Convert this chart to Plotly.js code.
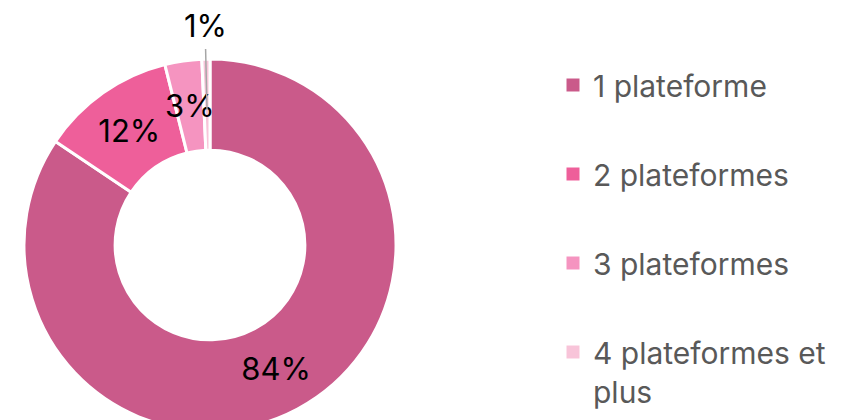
<!DOCTYPE html>
<html>
<head>
<meta charset="utf-8">
<script src="https://cdn.plot.ly/plotly-3.0.1.min.js"></script>
<style>
  html, body { margin: 0; padding: 0; overflow: hidden; background: #fff; }
  #chart { width: 851px; height: 460px; }
</style>
</head>
<body>
<div id="chart"></div>
<script>
const categories = ['1 plateforme', '2 plateformes', '3 plateformes', '4 plateformes et<br>plus'];
const shares = [84.4, 11.7, 3.2, 0.7];
const sliceColors = ['#CA5A8A', '#EE5F9A', '#F594C0', '#F8C4D9'];
// the two thin slices get their labels as annotations (like the Excel original)
const pieLabels = ['%{percent:.0%}', '%{percent:.0%}', '', ''];

const font = 'Inter, "Open Sans", sans-serif';
const W = 851, H = 460;
const mt = 59, mb = 29;
const cx = 210, R = 186; // pie centre x and outer radius, px
const hole = 0.51;

const donut = {
  type: 'pie',
  labels: categories,
  values: shares,
  hole: hole,
  sort: false,
  direction: 'clockwise',
  rotation: 0,
  showlegend: false,
  textposition: 'inside',
  texttemplate: pieLabels,
  insidetextorientation: 'horizontal',
  textfont: { family: font, size: 31, color: '#000' },
  marker: { colors: sliceColors, line: { color: '#fff', width: 3 } },
  domain: { x: [(cx - R) / W, (cx + R) / W], y: [0, 1] },
  hoverinfo: 'label+percent'
};

// legend entries, one per category, spaced like the original
const legendTraces = categories.map((name, i) => ({
  type: 'scatter',
  mode: 'markers',
  x: [null],
  y: [null],
  name,
  legendgroup: 'g' + i,
  marker: { symbol: 'square', size: 13, color: sliceColors[i] },
  hoverinfo: 'skip'
}));

// position of a slice's mid angle at radius r, in paper coords
const total = shares.reduce((a, b) => a + b, 0);
function slicePoint(i, r) {
  const before = shares.slice(0, i).reduce((a, b) => a + b, 0);
  const t = (before + shares[i] / 2) / total * 2 * Math.PI;
  const plotH = H - mt - mb;
  return {
    x: (cx + Math.sin(t) * r) / W,
    y: 0.5 + Math.cos(t) * r / plotH
  };
}
const pct = v => Math.round(v / total * 100) + '%';

const p3 = slicePoint(2, 141);
const p4tip = slicePoint(3, 135);
const annotations = [
  {
    xref: 'paper', yref: 'paper', x: p3.x, y: p3.y,
    xanchor: 'center', yanchor: 'middle',
    text: pct(shares[2]), showarrow: false,
    font: { family: font, size: 31, color: '#000' }
  },
  {
    xref: 'paper', yref: 'paper', x: p4tip.x, y: p4tip.y,
    text: pct(shares[3]), showarrow: true, arrowhead: 0,
    arrowcolor: '#A6A6A6', arrowwidth: 1.5,
    ax: -2, ay: -85, startstandoff: 4,
    font: { family: font, size: 31, color: '#000' }
  }
];

const layout = {
  width: W,
  height: H,
  margin: { l: 0, r: 0, t: mt, b: mb },
  paper_bgcolor: '#fff',
  plot_bgcolor: '#fff',
  font: { family: font },
  xaxis: { visible: false, domain: [0.6, 0.61] },
  yaxis: { visible: false },
  annotations,
  showlegend: true,
  legend: {
    x: 553 / W,
    xanchor: 'left',
    y: 1,
    yanchor: 'top',
    valign: 'top',
    tracegroupgap: 47,
    font: { family: font, size: 30, color: '#595959' },
    itemclick: false
  }
};

Plotly.newPlot('chart', [donut, ...legendTraces], layout, { displayModeBar: false, staticPlot: true });
</script>
</body>
</html>
